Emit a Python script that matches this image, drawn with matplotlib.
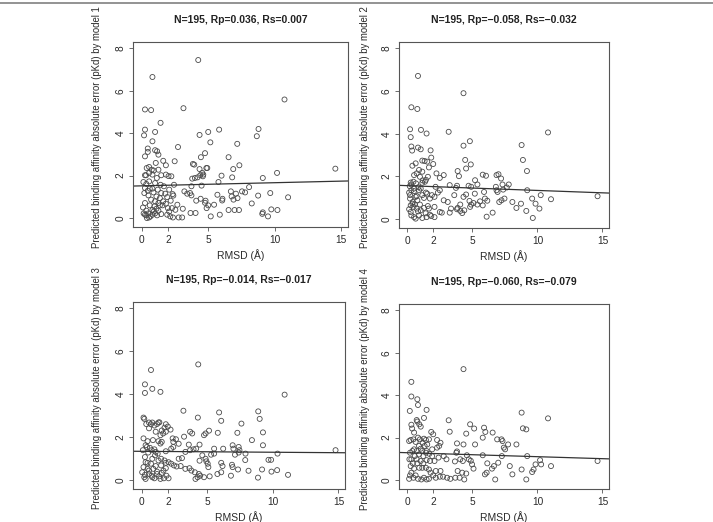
import numpy as np
import matplotlib
matplotlib.use("Agg")
import matplotlib.pyplot as plt
from matplotlib.lines import Line2D

plt.rcParams['font.family'] = ['Liberation Sans', 'DejaVu Sans']

# valeurs (RMSD, erreur absolue) pour chaque modele
x1 = [4.25, 3.14, 2.73, 2.48, 2.43, 4.35, 5.0, 5.82, 5.16, 4.76, 4.45, 3.85, 3.95, 4.86, 4.93, 4.35, 4.55, 4.63,
      6.0, 7.18, 6.53, 6.88, 7.34, 6.8, 5.77, 8.78, 8.65, 10.73, 9.1, 10.17, 14.55, 11.0, 9.66, 8.75, 8.07, 7.77,
      7.54, 7.08, 6.7, 6.76, 6.9, 7.2, 8.27, 9.1, 9.06, 9.74, 10.2, 9.49, 6.53, 6.98, 7.31, 6.05, 6.07, 5.69, 5.87,
      5.19, 5.0, 4.8, 4.76, 4.43, 4.1, 4.05, 3.67, 3.74, 3.64, 3.21, 3.42, 3.8, 4.0, 4.2, 4.4, 4.6, 3.74, 4.5, 5.44,
      4.88, 3.09, 2.78, 2.35, 2.53, 3.04, 2.68, 2.38,
      0.81, 0.25, 0.71, 1.42, 0.25, 0.18, 1.01, 0.81, 0.46, 0.46, 1.01, 1.16, 1.26, 0.25, 1.62, 1.82, 1.06, 0.56,
      0.38, 0.76, 0.91, 1.26, 0.56, 0.25, 0.33, 0.81, 1.47, 1.82, 2.02, 2.23, 1.14, 0.13, 0.35, 0.56, 1.01, 1.42,
      1.67, 0.25, 0.61, 0.81, 1.21, 0.46, 2.07, 0.2, 0.89, 1.47, 1.77, 2.33, 0.51, 1.11, 1.37, 1.92, 0.71, 1.01,
      1.62, 2.18, 0.25, 1.26, 1.82, 1.57, 0.61, 0.96, 1.37, 0.1, 1.11, 1.97, 2.28, 0.35, 0.81, 1.26, 0.91, 2.07,
      0.15, 0.51, 1.01, 1.47, 0.35, 0.66, 0.81, 0.4, 0.56, 1.92, 2.15, 0.25, 1.16]
y1 = [7.45, 5.18, 3.35, 2.68, 1.57, 3.92, 4.06, 4.17, 3.57, 3.06, 2.87, 2.55, 2.52, 2.36, 2.36, 2.31, 2.13, 2.05,
      2.0, 3.5, 2.87, 2.31, 2.49, 1.92, 1.7, 4.2, 3.86, 5.59, 1.89, 2.13, 2.33, 0.98, 1.18, 1.06, 1.46, 1.21,
      1.26, 1.15, 1.26, 1.02, 0.87, 0.94, 0.69, 0.27, 0.2, 0.41, 0.38, 0.08, 0.38, 0.38, 0.38, 0.83, 0.91, 1.1, 0.16,
      0.08, 0.6, 0.82, 0.72, 0.91, 0.82, 0.24, 0.24, 1.07, 1.18, 1.26, 1.15, 1.86, 1.89, 1.92, 2.02, 1.97, 1.5, 1.53, 0.63,
      0.47, 0.44, 0.03, 0.03, 0.39, 0.03, 0.63, 1.06,
      6.65, 5.12, 5.09, 4.49, 4.17, 3.9, 4.06, 3.62, 3.28, 3.12, 3.2, 3.15, 2.99, 2.91, 2.7, 2.49, 2.6, 2.41,
      2.36, 2.28, 2.24, 2.28, 2.13, 2.02, 2.02, 2.05, 2.02, 2.05, 1.98, 1.97, 1.89, 1.7, 1.61, 1.73, 1.65, 1.57,
      1.5, 1.42, 1.39, 1.39, 1.34, 1.29, 1.34, 1.18, 1.21, 1.18, 1.15, 1.13, 1.07, 1.02, 0.94, 0.99, 0.87, 0.79,
      0.79, 0.82, 0.71, 0.71, 0.68, 0.6, 0.6, 0.55, 0.6, 0.5, 0.44, 0.47, 0.47, 0.35, 0.38, 0.35, 0.31, 0.31,
      0.22, 0.22, 0.22, 0.19, 0.13, 0.08, 0.16, 0.0, 0.03, 0.16, 0.08, 0.16, 0.13]

x2 = [0.81, 0.3, 0.76, 4.31, 0.2, 1.04, 1.47, 0.25, 3.17, 10.81, 4.8, 4.31, 8.78, 0.3, 0.81, 1.02, 0.36, 1.78,
      8.88, 4.44, 1.83, 1.14, 1.32, 1.52, 0.63, 1.98, 0.38, 4.87, 4.51, 3.86, 1.65, 9.19, 7.0, 6.85, 5.79, 6.04,
      7.2, 0.89, 1.14, 0.71, 0.51, 2.23, 2.79, 2.49, 1.57, 0.96, 3.96, 5.2, 1.17, 1.42, 0.46, 0.25, 1.14, 1.35,
      0.18, 0.3, 3.25, 3.81, 3.73, 4.7, 4.9, 5.38, 6.8, 7.31, 7.79, 7.64, 0.84, 1.02, 0.89, 2.16, 2.49, 2.34,
      0.13, 0.51, 1.42, 1.52, 1.14, 0.71, 1.88, 1.27, 1.73, 2.08, 2.79, 3.6, 4.31, 4.51, 5.18, 5.89, 6.85, 6.93,
      7.36, 7.46, 7.23, 7.06, 8.07, 8.73, 9.59, 10.25, 11.04, 9.85, 10.15, 8.38, 9.14, 9.64, 14.62, 9.21, 6.14,
      5.96, 5.58, 5.38, 5.08, 4.77, 4.9, 4.82, 4.06, 3.86, 4.06, 4.21, 4.37, 3.35, 3.81, 3.1, 3.25, 5.79, 6.09,
      6.55, 2.08, 2.49, 2.64, 1.65, 1.27, 1.02, 0.81, 1.4, 1.73, 1.47, 1.83, 2.08, 0.25, 0.13, 0.3, 0.51, 0.63,
      0.89, 1.14, 0.25, 0.38, 0.56, 0.41, 0.63, 0.76, 0.2, 0.96, 1.57, 0.71, 0.46, 0.2, 0.3, 0.51, 0.66]
y2 = [6.71, 5.24, 5.16, 5.9, 4.21, 4.18, 4.01, 3.84, 4.09, 4.06, 3.65, 3.44, 3.47, 3.4, 3.35, 3.27, 3.21, 3.22,
      2.77, 2.77, 2.88, 2.74, 2.72, 2.69, 2.61, 2.58, 2.5, 2.56, 2.37, 2.25, 2.42, 2.25, 2.1, 2.06, 2.08, 2.03,
      1.9, 2.3, 2.22, 2.14, 2.06, 2.14, 2.06, 1.93, 1.98, 1.98, 2.01, 1.82, 1.81, 1.84, 1.75, 1.71, 1.7, 1.75,
      1.54, 1.62, 1.59, 1.56, 1.46, 1.56, 1.51, 1.62, 1.51, 1.62, 1.62, 1.48, 1.49, 1.43, 1.35, 1.51, 1.35, 1.24,
      1.24, 1.31, 1.24, 1.19, 1.12, 1.08, 1.12, 0.99, 0.96, 1.04, 0.88, 1.12, 1.04, 1.15, 1.19, 1.27, 1.35, 1.27,
      1.38, 0.96, 0.88, 0.8, 0.8, 0.72, 0.96, 1.12, 0.93, 0.72, 0.49, 0.52, 0.38, 0.05, 1.07, 1.35, 0.86,
      0.96, 0.83, 0.68, 0.75, 0.85, 0.68, 0.57, 0.68, 0.52, 0.38, 0.28, 0.41, 0.49, 0.46, 0.8, 0.3, 0.64, 0.11,
      0.3, 0.57, 0.33, 0.3, 0.49, 0.52, 0.41, 0.36, 0.27, 0.2, 0.09, 0.14, 0.09, 0.33, 0.46, 0.17, 0.09, 0.02,
      0.17, 0.05, 0.64, 0.72, 0.69, 0.8, 1.04, 0.88, 0.96, 0.68, 0.61, 0.49, 0.57, 1.12, 1.35, 1.43, 1.67]

x3 = [0.72, 4.32, 0.26, 0.26, 0.82, 1.44, 10.9, 3.19, 0.15, 0.21, 4.29, 5.91, 8.89, 9.0, 6.07, 7.61, 9.25, 7.3,
      5.81, 5.14, 4.88, 4.76, 3.7, 3.86, 3.24, 2.62, 1.85, 1.75, 2.0, 0.36, 0.57, 0.82, 1.29, 1.36, 0.98, 0.72,
      1.18, 1.08, 1.54, 2.21, 2.37, 1.65, 1.44, 1.85, 0.57, 0.15, 0.46, 0.87, 1.29, 1.44, 1.54, 2.42, 2.83, 3.6,
      4.42, 5.53, 6.22, 6.94, 7.0, 7.46, 7.4, 8.41, 9.25, 7.92, 7.4, 7.12, 10.36, 14.78, 9.87, 9.67, 10.33, 9.9,
      9.18, 11.16, 8.87, 8.15, 7.9, 6.94, 6.89, 6.81, 7.35, 6.17, 6.07, 6.07, 5.78, 5.53, 5.3, 4.88, 4.94, 5.04,
      5.09, 5.19, 4.76, 4.47, 4.27, 4.11, 4.37, 4.06, 3.8, 3.65, 3.34, 2.98, 3.08, 2.83, 3.34, 3.7, 3.96, 4.16,
      4.63, 4.42, 2.42, 2.26, 1.85, 0.77, 0.31, 0.41, 0.64, 0.98, 1.08, 1.23, 1.03, 0.51, 1.29, 0.82, 0.31, 0.46,
      0.72, 1.49, 1.75, 1.85, 2.06, 2.26, 2.47, 2.67, 1.85, 1.67, 1.49, 1.08, 0.9, 0.46, 0.15, 0.05, 0.26, 0.21,
      0.31, 0.57, 0.77, 0.98, 0.82, 1.18, 1.34, 1.54, 1.7, 1.9, 2.06, 1.44, 0.57, 1.18, 0.26, 0.1]
y3 = [5.13, 5.39, 4.46, 4.06, 4.25, 4.11, 3.98, 3.23, 2.91, 2.85, 2.91, 3.15, 3.2, 2.85, 2.76, 2.63, 2.22, 2.2,
      2.2, 2.3, 2.17, 2.09, 2.25, 2.17, 2.02, 1.9, 2.6, 2.44, 2.49, 2.61, 2.68, 2.68, 2.68, 2.69, 2.54, 2.6,
      2.61, 2.25, 2.31, 2.35, 1.94, 2.17, 2.09, 2.25, 2.41, 1.94, 1.81, 1.86, 1.81, 1.7, 1.78, 1.78, 1.69, 1.65,
      1.65, 1.46, 1.46, 1.62, 1.46, 1.39, 1.54, 1.86, 1.62, 1.23, 1.28, 1.18, 1.23, 1.39, 0.94, 0.94, 0.46, 0.39,
      0.49, 0.24, 0.11, 0.43, 0.93, 0.6, 0.71, 0.2, 0.49, 0.65, 0.8, 0.36, 0.28, 1.23, 1.18, 0.99, 0.87, 0.76,
      0.6, 0.17, 0.13, 0.2, 0.13, 0.05, 0.28, 0.36, 0.44, 0.55, 0.52, 0.65, 1.02, 0.99, 1.31, 1.39, 1.43, 1.46,
      1.15, 0.9, 1.54, 1.46, 1.34, 1.39, 1.62, 1.54, 1.5, 1.43, 1.31, 1.23, 1.15, 1.28, 0.91, 0.99, 0.83, 0.8,
      0.76, 0.99, 0.91, 0.8, 0.83, 0.76, 0.68, 0.63, 0.55, 0.44, 0.68, 0.65, 0.52, 0.52, 0.6, 0.36, 0.24, 0.13,
      0.05, 0.28, 0.2, 0.08, 0.13, 0.28, 0.17, 0.33, 0.08, 0.2, 0.08, 0.05, 0.44, 0.39, 1.07, 1.39]

x4 = [4.31, 0.3, 0.3, 0.76, 0.81, 0.18, 1.47, 3.17, 8.78, 10.81, 0.71, 0.76, 0.91, 1.02, 0.3, 0.36, 1.27, 0.51,
      1.83, 1.98, 3.25, 4.82, 5.13, 4.52, 8.88, 9.14, 5.89, 5.99, 6.55, 6.9, 7.23, 7.31, 5.79, 7.74, 8.38, 7.41,
      7.51, 7.26, 9.21, 5.2, 4.31, 3.81, 2.28, 2.54, 2.44, 2.28, 0.25, 0.13, 0.46, 0.63, 0.81, 0.96, 1.27, 1.42,
      1.65, 1.17, 1.52, 0.89, 1.32, 1.02, 0.51, 0.71, 1.14, 0.38, 0.2, 1.42, 1.68, 1.9, 1.22, 0.89, 0.56, 0.15,
      0.3, 0.71, 1.02, 1.47, 1.73, 2.08, 2.39, 2.79, 3.0, 3.76, 3.81, 3.65, 4.06, 4.26, 4.72, 4.87, 4.97, 5.08,
      4.57, 5.79, 6.14, 6.09, 5.96, 6.5, 6.65, 6.75, 6.98, 7.87, 8.07, 8.78, 9.14, 9.59, 9.7, 9.85, 10.2, 10.28,
      11.04, 14.62, 3.86, 4.21, 4.52, 4.37, 3.68, 4.01, 3.05, 3.3, 2.74, 2.49, 2.18, 1.98, 1.78, 1.65, 1.42, 1.14,
      0.91, 0.51, 0.3, 0.2, 0.13, 0.46, 0.63, 0.81, 1.07, 1.27, 1.47, 1.65, 0.25, 0.41, 0.76, 1.22, 2.18, 2.54,
      1.47, 1.9]
y4 = [5.23, 4.63, 3.94, 3.81, 3.54, 3.26, 3.31, 2.82, 3.18, 2.91, 2.83, 2.76, 2.63, 2.52, 2.61, 2.43, 2.93, 2.24,
      2.27, 2.16, 2.28, 2.63, 2.43, 2.19, 2.44, 2.39, 2.47, 2.27, 2.24, 1.92, 1.92, 1.84, 2.0, 1.68, 1.68, 1.53,
      1.45, 1.13, 1.13, 1.68, 1.68, 1.73, 1.89, 1.76, 1.61, 1.53, 1.89, 1.84, 1.92, 1.8, 2.0, 1.92, 1.95, 1.89,
      1.92, 1.76, 1.68, 1.61, 1.61, 1.48, 1.45, 1.37, 1.37, 1.37, 1.29, 1.29, 1.24, 1.13, 1.13, 1.21, 1.13, 0.98,
      0.98, 0.98, 0.9, 0.94, 0.9, 0.9, 1.06, 1.13, 0.98, 1.29, 1.35, 0.88, 0.98, 0.9, 0.98, 0.91, 0.74, 0.54,
      1.17, 1.17, 0.79, 0.35, 0.27, 0.54, 0.66, 0.03, 0.82, 0.66, 0.27, 0.5, 0.03, 0.38, 0.5, 0.74, 0.94, 0.74,
      0.66, 0.9, 0.43, 0.35, 0.31, 0.03, 0.11, 0.11, 0.11, 0.06, 0.16, 0.16, 0.11, 0.22, 0.35, 0.5, 0.58, 0.58,
      0.58, 0.54, 0.35, 0.22, 0.06, 0.11, 0.22, 0.06, 0.03, 0.11, 0.03, 0.06, 0.66, 0.79, 0.79, 0.79, 0.43, 0.43,
      1.37, 1.45]

xs = [x1, x2, x3, x4]
ys = [y1, y2, y3, y4]
titles = ["N=195, Rp=0.036, Rs=0.007", "N=195, Rp=\u22120.058, Rs=\u22120.032",
          "N=195, Rp=\u22120.014, Rs=\u22120.017", "N=195, Rp=\u22120.060, Rs=\u22120.079"]
# droite de regression (ordonnee a l'origine, pente)
fit_b = [1.52, 1.565, 1.337, 1.29]
fit_a = [0.0148, -0.0224, -0.0043, -0.0187]
xticks = [0, 2, 5, 10, 15]
yticks = [0, 2, 4, 6, 8]

# position des panneaux en pixels (gauche, haut, droite, bas)
boxes = [(133, 42, 348, 227), (399, 42, 609, 228), (133, 302, 345, 489), (399, 304, 609, 489)]
ylab_x = [97, 365, 97, 365]

W, H = 713, 522
fig = plt.figure(figsize=(W / 100, H / 100), dpi=100)
fig.add_artist(Line2D([0, 1], [1 - 2.5 / H, 1 - 2.5 / H], color='#8a8a8a', lw=1.3))

dark = '#555555'
for i in range(4):
    l, t, r, b = boxes[i]
    ax = fig.add_axes([l / W, 1 - b / H, (r - l) / W, (b - t) / H])
    ax.scatter(xs[i], ys[i], s=13, facecolors='none', edgecolors='#4a4a4a', linewidths=0.6)
    xx = np.array([-1, 16])
    ax.plot(xx, fit_b[i] + fit_a[i] * xx, color='#333333', lw=0.9)
    ax.set_xlim(-0.65, 15.5)
    ax.set_ylim(-0.42, 8.3)
    ax.set_xticks(xticks)
    ax.set_yticks(yticks)
    ax.tick_params(direction='out', length=3, width=0.6, color=dark, labelsize=7.3,
                   labelcolor='#2a2a2a', pad=2.5)
    for lab in ax.get_yticklabels():
        lab.set_rotation(90)
        lab.set_va('center')
    for sp in ax.spines.values():
        sp.set_color(dark)
        sp.set_linewidth(0.8)
    hpx = b - t
    ax.text(0.5, 1 + 22 / hpx, titles[i], transform=ax.transAxes, ha='center', va='center',
            fontsize=7.5, fontweight='bold', color='#222222')
    ax.set_xlabel("RMSD (Å)", fontsize=7.5, color='#2a2a2a', va='center')
    ax.xaxis.set_label_coords(0.5, -28 / hpx)
    ax.set_ylabel("Predicted binding affinity absolute error (pKd) by model %d" % (i + 1),
                  fontsize=6.9, color='#2a2a2a', va='center')
    ax.yaxis.set_label_coords((ylab_x[i] - l) / (r - l), 0.54)

fig.savefig("out.png", dpi=100)
